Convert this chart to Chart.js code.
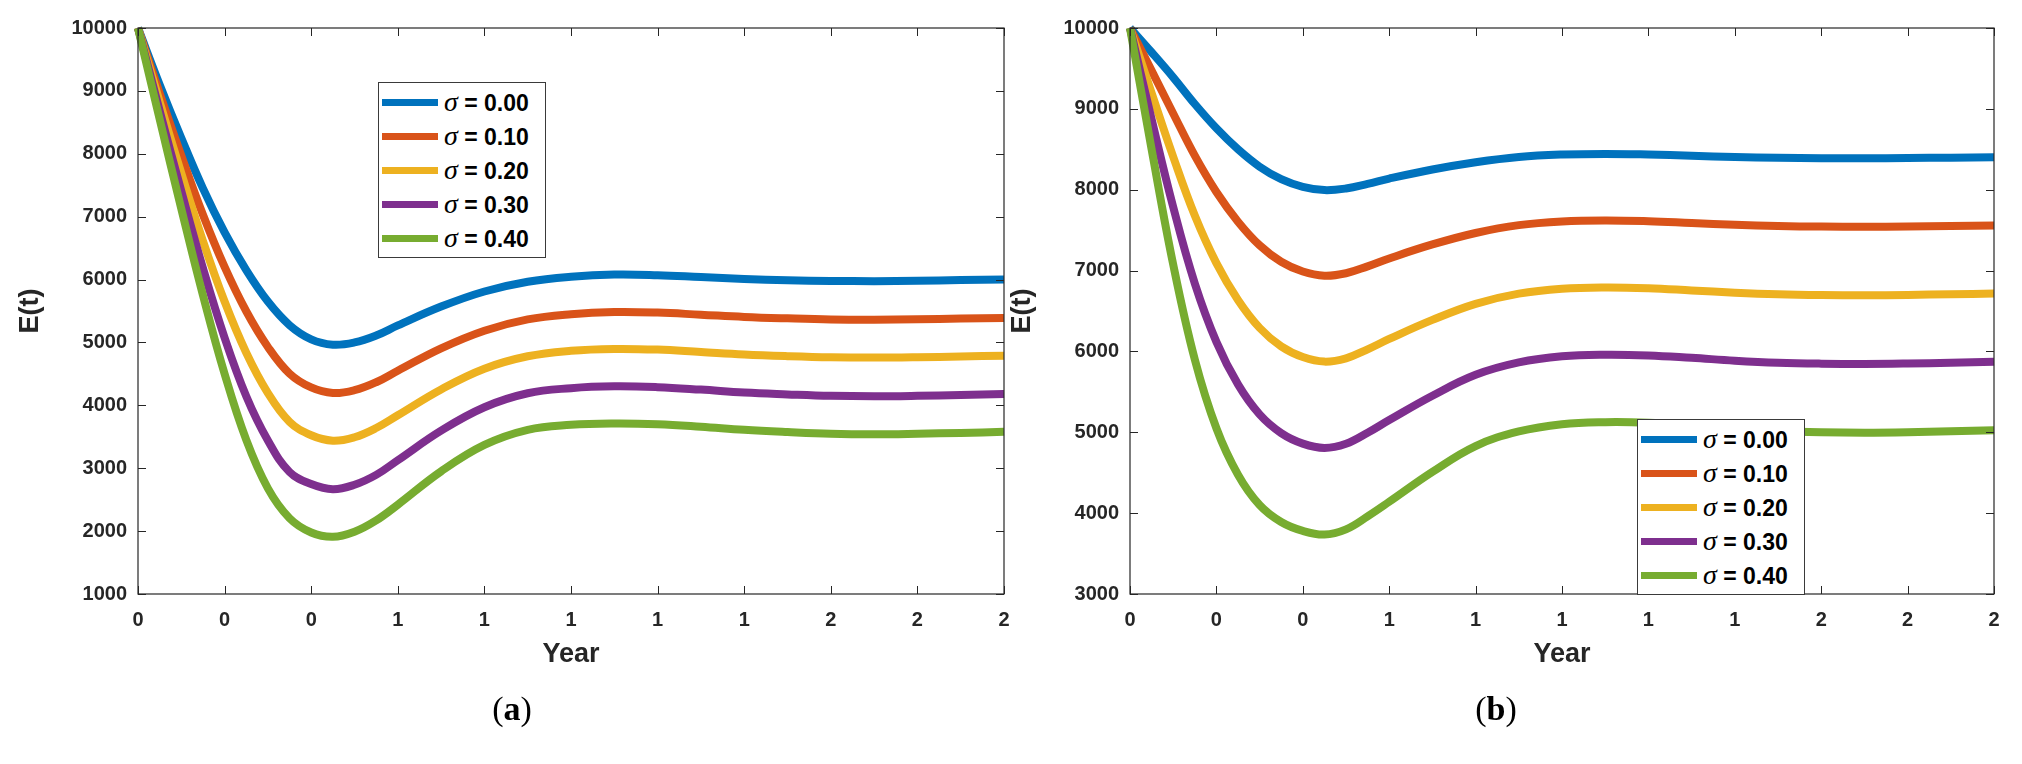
<!DOCTYPE html>
<html>
<head>
<meta charset="utf-8">
<script src="https://cdn.jsdelivr.net/npm/chart.js@4.4.1/dist/chart.umd.min.js"></script>
<style>
  html, body { margin: 0; padding: 0; background: #fff; }
  body { width: 2022px; height: 764px; position: relative; overflow: hidden; }
  canvas { position: absolute; top: 0; }
  #chart-a { left: 0; }
  #chart-b { left: 992px; }
  .legend {
    position: absolute; width: 166px; height: 172px;
    border: 1px solid #3a3a3a; background: #fff;
    box-sizing: content-box; padding-top: 2px;
  }
  .legend .row { height: 34px; display: flex; align-items: center; }
  .legend .swatch { width: 56px; height: 7px; margin-left: 3px; margin-right: 6px; }
  .legend .lbl { font: bold 23px 'Liberation Sans'; color: #000; white-space: nowrap; }
  .legend .lbl i { font: italic 28px 'Liberation Serif'; font-weight: normal; }
  .caption {
    position: absolute; top: 690px; width: 80px; text-align: center;
    font: 34px 'Liberation Serif'; color: #000;
  }
</style>
</head>
<body>
<canvas id="chart-a" width="1040" height="700"></canvas>
<canvas id="chart-b" width="1030" height="700"></canvas>
<div class="legend" id="legend-a" style="left:378px; top:82px;"></div>
<div class="legend" id="legend-b" style="left:1637px; top:419px;"></div>
<div class="caption" style="left:472px;">(<b>a</b>)</div>
<div class="caption" style="left:1456px;">(<b>b</b>)</div>

<script>
/* -------------------------------------------------- */
/* Data                          */
/* -------------------------------------------------- */

const YEARS = [0, 0.05, 0.1, 0.15, 0.2, 0.25, 0.3, 0.35, 0.4, 0.45, 0.5, 0.55, 0.6,
               0.7, 0.8, 0.9, 1.0, 1.1, 1.2, 1.3, 1.4, 1.5, 1.6, 1.7, 1.8, 1.9, 2.0];

const X_TICK_LABELS = ['0', '0', '0', '1', '1', '1', '1', '1', '2', '2', '2'];
const Y_TICKS_A = [1000, 10000];
const Y_TICKS_B = [3000, 10000];

const SIGMAS = ['0.00', '0.10', '0.20', '0.30', '0.40'];
const COLORS = ['#0072BD', '#D95319', '#EDB120', '#7E2F8E', '#77AC30'];

// panel (a)
const A_SIGMA_00 = [10000, 9100, 8250, 7450, 6750, 6150, 5650, 5275, 5050, 4965, 5000, 5110, 5270,
                    5570, 5810, 5965, 6045, 6080, 6070, 6040, 6010, 5990, 5978, 5975, 5982, 5992, 6002];
const A_SIGMA_10 = [10000, 8963, 7972, 7031, 6201, 5496, 4929, 4505, 4284, 4196, 4240, 4367, 4550,
                    4906, 5187, 5367, 5450, 5484, 5475, 5441, 5406, 5383, 5366, 5362, 5368, 5379, 5390];
const A_SIGMA_20 = [10000, 8825, 7692, 6614, 5650, 4837, 4196, 3738, 3524, 3438, 3493, 3639, 3842,
                    4253, 4582, 4780, 4868, 4897, 4886, 4847, 4808, 4782, 4764, 4759, 4765, 4777, 4790];
const A_SIGMA_30 = [10000, 8685, 7407, 6182, 5076, 4145, 3441, 2940, 2748, 2667, 2737, 2894, 3127,
                    3598, 3970, 4192, 4273, 4302, 4289, 4250, 4203, 4174, 4151, 4144, 4151, 4165, 4180];
const A_SIGMA_40 = [10000, 8550, 7125, 5750, 4500, 3450, 2680, 2205, 1978, 1910, 1990, 2170, 2420,
                    2950, 3370, 3610, 3690, 3712, 3700, 3660, 3610, 3575, 3548, 3540, 3548, 3562, 3578];

// panel (b)
const B_SIGMA_00 = [10000, 9700, 9390, 9060, 8760, 8500, 8285, 8130, 8035, 7995, 8015, 8072, 8138,
                    8250, 8340, 8405, 8435, 8443, 8435, 8420, 8405, 8395, 8390, 8389, 8392, 8396, 8400];
const B_SIGMA_10 = [10000, 9473, 8943, 8421, 7972, 7605, 7313, 7109, 6988, 6937, 6967, 7052, 7150,
                    7323, 7465, 7562, 7608, 7620, 7610, 7588, 7566, 7551, 7544, 7542, 7546, 7552, 7558];
const B_SIGMA_20 = [10000, 9196, 8408, 7681, 7092, 6636, 6291, 6062, 5930, 5874, 5915, 6026, 6154,
                    6390, 6589, 6715, 6776, 6792, 6782, 6755, 6727, 6707, 6697, 6694, 6699, 6707, 6715];
const B_SIGMA_30 = [10000, 8872, 7786, 6841, 6119, 5592, 5221, 4990, 4860, 4807, 4858, 4994, 5151,
                    5452, 5711, 5864, 5940, 5960, 5951, 5921, 5886, 5861, 5849, 5845, 5850, 5860, 5871];
const B_SIGMA_40 = [10000, 8500, 7075, 5900, 5050, 4475, 4100, 3890, 3780, 3735, 3800, 3960, 4140,
                    4510, 4830, 5010, 5100, 5125, 5118, 5085, 5045, 5015, 5000, 4995, 5000, 5012, 5025];

/* -------------------------------------------------- */
/* Style                                               */
/* -------------------------------------------------- */

const AXIS_COLOR = '#262626';
const TICK_LEN = 8;
const FONT = "'Liberation Sans', Arial, sans-serif";

Chart.defaults.font.family = FONT;
Chart.defaults.color = AXIS_COLOR;

// MATLAB-like box with inward ticks on all four sides
const boxPlugin = {
  id: 'matlabBox',
  afterDatasetsDraw(chart) {
    const { ctx, chartArea: a, scales: { x, y } } = chart;
    ctx.save();
    ctx.strokeStyle = AXIS_COLOR;
    ctx.lineWidth = 1.2;
    ctx.strokeRect(a.left, a.top, a.right - a.left, a.bottom - a.top);
    ctx.lineWidth = 1;
    ctx.beginPath();
    x.ticks.forEach(t => {
      const px = Math.round(x.getPixelForValue(t.value)) + 0.5;
      ctx.moveTo(px, a.bottom); ctx.lineTo(px, a.bottom - TICK_LEN);
      ctx.moveTo(px, a.top);    ctx.lineTo(px, a.top + TICK_LEN);
    });
    y.ticks.forEach(t => {
      const py = Math.round(y.getPixelForValue(t.value)) + 0.5;
      ctx.moveTo(a.left, py);  ctx.lineTo(a.left + TICK_LEN, py);
      ctx.moveTo(a.right, py); ctx.lineTo(a.right - TICK_LEN, py);
    });
    ctx.stroke();
    ctx.restore();
  },
};

/* -------------------------------------------------- */
/* Helpers                                             */
/* -------------------------------------------------- */

function toPoints(values) {
  return YEARS.map((x, i) => ({ x, y: values[i] }));
}

function buildLegend(id) {
  const el = document.getElementById(id);
  SIGMAS.forEach((s, i) => {
    const row = document.createElement('div');
    row.className = 'row';
    row.innerHTML = `<span class="swatch" style="background:${COLORS[i]}"></span>` +
                    `<span class="lbl"><i>σ</i> = ${s}</span>`;
    el.appendChild(row);
  });
}

function renderPanel(canvasId, series, yTicks, rightPad) {
  const ctx = document.getElementById(canvasId).getContext('2d');
  return new Chart(ctx, {
    type: 'line',
    data: {
      datasets: series.map((vals, i) => ({
        label: 'σ = ' + SIGMAS[i],
        data: toPoints(vals),
        borderColor: COLORS[i],
        borderWidth: 8,
        pointRadius: 0,
        fill: false,
        tension: 0.4,
        clip: false,
        order: series.length - i,
      })),
    },
    options: {
      responsive: false,
      animation: false,
      devicePixelRatio: 1,
      layout: { padding: { top: 28, left: 0, right: rightPad, bottom: 0 } },
      plugins: {
        legend: { display: false },
        tooltip: { enabled: false },
      },
      scales: {
        x: {
          type: 'linear',
          min: 0,
          max: 2,
          grid: { display: false, drawTicks: false },
          border: { display: false },
          ticks: {
            stepSize: 0.2,
            padding: 14,
            maxRotation: 0,
            autoSkip: false,
            font: { size: 20, weight: 'bold' },
            callback: (v, i) => X_TICK_LABELS[i],
          },
          title: {
            display: true,
            text: 'Year',
            font: { size: 27, weight: 'bold' },
            padding: { top: 0, bottom: 29 },
          },
          afterFit: s => { s.height = 106; },
        },
        y: {
          min: yTicks[0],
          max: yTicks[1],
          grid: { display: false, drawTicks: false },
          border: { display: false },
          ticks: {
            stepSize: 1000,
            padding: 11,
            font: { size: 20, weight: 'bold' },
            callback: v => String(v),
          },
          title: {
            display: true,
            text: 'E(t)',
            font: { size: 27, weight: 'bold' },
            padding: { top: 14, bottom: 0 },
          },
          afterFit: s => { s.width = 138; },
        },
      },
    },
    plugins: [boxPlugin],
  });
}

/* -------------------------------------------------- */
/* Entry point                                         */
/* -------------------------------------------------- */

renderPanel('chart-a', [A_SIGMA_00, A_SIGMA_10, A_SIGMA_20, A_SIGMA_30, A_SIGMA_40], Y_TICKS_A, 36);
renderPanel('chart-b', [B_SIGMA_00, B_SIGMA_10, B_SIGMA_20, B_SIGMA_30, B_SIGMA_40], Y_TICKS_B, 28);
buildLegend('legend-a');
buildLegend('legend-b');
</script>
</body>
</html>
